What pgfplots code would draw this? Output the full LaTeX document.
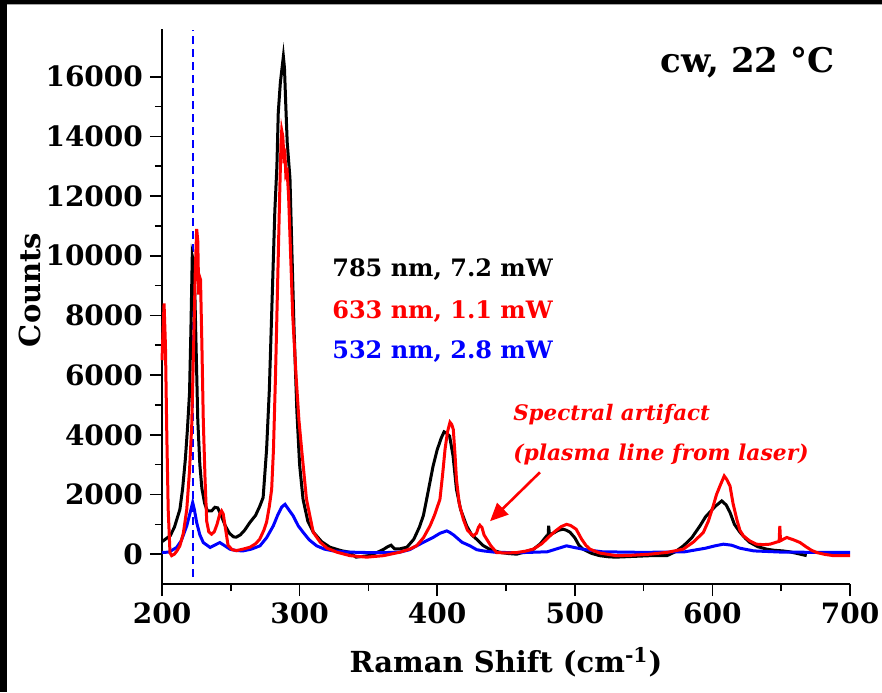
\documentclass[border=0pt]{standalone}
\usepackage{pgfplots}
\pgfplotsset{compat=1.18}
\usepackage{fontspec}
\setmainfont{DejaVu Serif}
\usetikzlibrary{arrows.meta}
\begin{document}
\begin{tikzpicture}
\useasboundingbox (0,0) rectangle (441pt,346pt);
\fill[white] (0,0) rectangle (441pt,346pt);
\fill[black] (0,0) rectangle (3.6pt,346pt);
\fill[black] (0,344.1pt) rectangle (441pt,346pt);
\fill[gray!70] (3.6pt,343.6pt) rectangle (441pt,344.1pt);
\begin{axis}[
  at={(81pt,54pt)}, anchor=south west,
  scale only axis, width=344pt, height=277.5pt,
  xmin=200, xmax=700, ymin=-1000, ymax=17600,
  axis x line*=bottom, axis y line*=left,
  axis line style={line width=0.8pt},
  xtick={200,300,...,700}, ytick={0,2000,...,16000},
  scaled y ticks=false, scaled x ticks=false,
  minor x tick num=1, minor y tick num=1,
  tick align=outside,
  major tick length=6pt, minor tick length=3.5pt,
  tick style={line width=0.8pt, black},
  /pgf/number format/1000 sep={},
  /pgf/number format/assume math mode=true,
  tick label style={font=\fontsize{14}{16}\selectfont\bfseries},
  xlabel={Raman Shift (cm\textsuperscript{-1})},
  ylabel={Counts},
  label style={font=\fontsize{14.5}{17}\selectfont\bfseries},
  xlabel style={at={(rel axis cs:0.5,-0.1405)}, anchor=center},
  ylabel style={at={(rel axis cs:-0.192,0.53)}, anchor=center, rotate=0},
  clip=false,
]
\addplot[blue, line width=0.75pt, dash pattern=on 4pt off 2.5pt] coordinates {(222.5,-770) (222.5,17550)};
% 785 nm
\addplot[black, line width=1.5pt] coordinates {
(200,420) (203,520) (206,620) (209,900) (211,1200) (213,1500) (215,2200) (217,3200) (218.5,4200) (220,5400) (221,7500) (222,10000) (223,9800) (224,8500) (225,6500) (226,4500) (227.5,3000) (229,2200) (231,1700) (233,1450) (236,1450) (238.5,1570) (240.5,1550) (243,1300) (246,950) (249,700) (252,580) (254,570) (257,650) (260,800) (264,1070) (268,1300) (271,1600) (273.5,1900) (276,3500) (278,5500) (280,8500) (282,11500) (283.5,13000) (284.5,14800) (286,15800) (287.5,16400) (288.2,16680) (289,16300) (290,15000) (291,13800) (293,12600) (294.5,10000) (296,7500) (298,4800) (300,3000) (302.5,1840) (306,1100) (310,736) (316,420) (322,234) (330,120) (336,67) (341,-100) (350,-50) (356,50) (361,160) (364,250) (366.5,300) (369,180) (373,180) (378,234) (383,500) (387,900) (390,1300) (393,2000) (397,2950) (400,3500) (403,3900) (405,4100) (407,4050) (409,3960) (411.5,3300) (414,2175) (417,1500) (421.4,950) (425,650) (428.7,500) (433,300) (438,167) (445.6,60) (452,20) (457.8,0) (464,80) (470,167) (475,350) (479.6,614) (480.6,614) (481,950) (481.6,640) (485,720) (488,800) (491.5,836) (494,800) (496.5,736) (500,550) (503,300) (506,167) (512,30) (518,-50) (525,-90) (530,-100) (540,-80) (555,-50) (567,-50) (573,80) (579,280) (585,550) (591,950) (595,1250) (598,1400) (602,1600) (606.8,1785) (610,1650) (612.8,1400) (616,1000) (620,736) (624,530) (627,400) (633,250) (639.5,167) (645,130) (651,110) (656,80) (662,20) (668.5,-50)
};
% 532 nm
\addplot[blue, line width=1.5pt] coordinates {
(200,55) (205,70) (210.6,224) (214,450) (218,950) (220.5,1400) (222.3,1730) (223.5,1500) (225.2,1060) (227.5,650) (230,390) (235,224) (239,320) (242,390) (245,300) (249.4,167) (254,120) (259,110) (265,170) (271.2,280) (276,550) (280.9,950) (284,1300) (287,1580) (289.4,1670) (292,1500) (295.4,1280) (299,950) (302.7,725) (307,480) (312.4,280) (318,170) (324.5,110) (335,70) (348.8,55) (360,50) (373,70) (380,150) (385,280) (391,420) (397,560) (402,700) (406.9,780) (409.3,725) (412,640) (414,560) (418,400) (423.8,280) (428.7,150) (433.5,110) (443,60) (460,50) (480,80) (487,180) (494,280) (500,220) (508,150) (520,80) (550,60) (580,80) (595,200) (602,280) (608,335) (614,300) (620,200) (630,110) (650,70) (680,60) (700,60)
};
% 633 nm
\addplot[red, line width=1.5pt] coordinates {
(200,6500) (201.5,8400) (202.5,7000) (203.5,4000) (204.5,1500) (205.8,50) (207,-50) (209,0) (211,120) (213,280) (215.5,700) (218,1500) (220,2800) (221.6,4300) (223,7000) (224.2,9500) (225.2,10900) (226,10500) (226.7,8700) (227.3,9300) (228,9200) (229,7000) (230,4500) (231.3,2500) (232.5,1100) (234,750) (236,670) (238,750) (240,1000) (242,1350) (243.3,1450) (244.5,1350) (246,900) (248,300) (251,150) (254,120) (259,170) (264,234) (268,350) (271,500) (274,800) (276,1070) (278,1600) (279.7,2175) (281,3500) (282.5,6000) (284,9000) (285.5,12000) (286.5,13800) (287,14200) (287.8,14000) (288.6,13300) (289.4,13400) (290,12700) (291,12800) (292,12000) (293.5,10000) (295,8000) (297.4,6000) (299.5,4500) (301.5,3500) (305,1840) (309.9,736) (315,400) (320,200) (327,67) (336.6,-50) (348.8,-100) (361,-50) (373,67) (380,170) (385,280) (390,550) (394.8,950) (398,1300) (402,1840) (404,2700) (405.7,3515) (407.5,4100) (409.3,4420) (410.5,4350) (411.7,4180) (413,3300) (414,2510) (416,1700) (419,1170) (422,800) (426.2,614) (428.5,700) (430,900) (431,970) (432.5,900) (434,650) (436,500) (439,280) (443.2,55) (450,40) (457.8,55) (464,100) (469.8,167) (476,350) (482,614) (486,780) (490,920) (494,1000) (497,960) (501,836) (505,500) (508,300) (511,167) (518,40) (530,-50) (540,-40) (554.7,0) (567,60) (578.8,167) (586,400) (593.4,725) (597,1100) (600.6,1617) (603,2000) (605.5,2286) (608.6,2620) (610.5,2500) (612.8,2286) (615,1700) (617.7,1170) (620,800) (622.5,614) (627,450) (632,335) (637,320) (641.9,335) (645,380) (648.5,430) (649,950) (649.5,450) (654,560) (659,480) (663.7,390) (668,250) (672,130) (675.8,55) (682,-10) (688,-50) (695,-50) (700,-50)
};
\node[anchor=west, font=\fontsize{12}{14}\selectfont\bfseries, text=black, inner sep=0pt] at (axis cs:323.5,9540) {785 nm, 7.2 mW};
\node[anchor=west, font=\fontsize{12}{14}\selectfont\bfseries, text=red, inner sep=0pt] at (axis cs:323.5,8134) {633 nm, 1.1 mW};
\node[anchor=west, font=\fontsize{12}{14}\selectfont\bfseries, text=blue, inner sep=0pt] at (axis cs:323.5,6795) {532 nm, 2.8 mW};
\node[anchor=east, font=\fontsize{17}{19}\selectfont\bfseries, inner sep=0pt] at (axis cs:689,16469) {cw, 22 °C};
\node[anchor=west, font=\fontsize{10.7}{12}\selectfont\bfseries\itshape, text=red, inner sep=0pt] at (axis cs:455,4686) {Spectral artifact};
\node[anchor=west, font=\fontsize{10.9}{12}\selectfont\bfseries\itshape, text=red, inner sep=0pt] at (axis cs:455,3347) {(plasma line from laser)};
\draw[red, line width=1.3pt, -{Triangle[length=9pt, width=8pt]}] (axis cs:474.7,2745) -- (axis cs:438.4,1105);
\end{axis}
\end{tikzpicture}
\end{document}
